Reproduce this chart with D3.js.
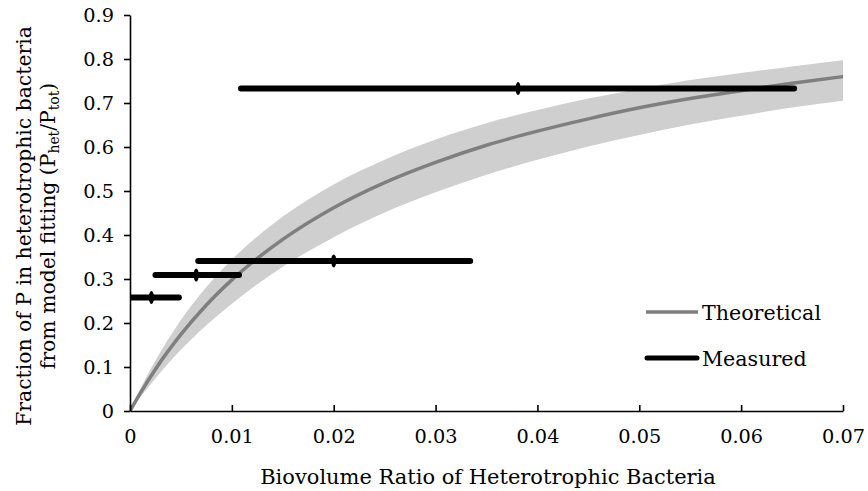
<!DOCTYPE html>
<html><head><meta charset="utf-8">
<script src="https://cdn.jsdelivr.net/npm/d3@7"></script>
<style>body{margin:0;background:#fff}svg{display:block}text{font-family:"DejaVu Serif",serif;fill:#000}</style>
</head><body><svg id="c" width="868" height="491"></svg>
<script>
// ---- data ----
const xTicks = [0, 0.01, 0.02, 0.03, 0.04, 0.05, 0.06, 0.07];
const xTickLabels = ["0", "0.01", "0.02", "0.03", "0.04", "0.05", "0.06", "0.07"];
const yTicks = [0, 0.1, 0.2, 0.3, 0.4, 0.5, 0.6, 0.7, 0.8, 0.9];
const yTickLabels = ["0", "0.1", "0.2", "0.3", "0.4", "0.5", "0.6", "0.7", "0.8", "0.9"];

const curveX     = [0, 0.001, 0.0025, 0.005, 0.0075, 0.01, 0.015, 0.02, 0.025, 0.03, 0.035, 0.04, 0.045, 0.05, 0.055, 0.06, 0.065, 0.07];
const theoretical= [0, 0.040, 0.095, 0.174, 0.241, 0.298, 0.390, 0.462, 0.519, 0.565, 0.604, 0.636, 0.664, 0.689, 0.710, 0.728, 0.745, 0.760];
const bandUpper  = [0, 0.050, 0.115, 0.207, 0.282, 0.344, 0.442, 0.515, 0.571, 0.617, 0.654, 0.684, 0.710, 0.732, 0.752, 0.768, 0.783, 0.797];
const bandLower  = [0, 0.031, 0.074, 0.139, 0.195, 0.244, 0.328, 0.395, 0.451, 0.497, 0.537, 0.571, 0.601, 0.627, 0.651, 0.671, 0.690, 0.705];

const measuredX   = [0.0021, 0.0065, 0.0200, 0.0381];
const measuredLo  = [-0.001, 0.0025, 0.0067, 0.0109];
const measuredHi  = [0.0048, 0.0107, 0.0334, 0.0652];
const measuredY   = [0.258, 0.309, 0.341, 0.733];

const legendNames = ["Theoretical", "Measured"];
const xTitle = "Biovolume Ratio of Heterotrophic Bacteria";

// ---- helpers ----
function fit(sel, target, base) {
  sel.attr("font-size", base);
  const w = sel.node().getComputedTextLength();
  const s = base * target / w;
  sel.attr("font-size", s);
  return s;
}

// ---- chart ----
const svg = d3.select("#c");
const x = d3.scaleLinear().domain([0, 0.07]).range([130, 843]);
const y = d3.scaleLinear().domain([0, 0.9]).range([411, 15]);

svg.append("defs").append("clipPath").attr("id","clip")
  .append("rect").attr("x",130).attr("y",0).attr("width",760).attr("height",411);

const plot = svg.append("g").attr("clip-path","url(#clip)");

const band = curveX.map((v,i)=>({x:v, lo:bandLower[i], hi:bandUpper[i]}));
plot.append("path").datum(band)
  .attr("d", d3.area().x(d=>x(d.x)).y0(d=>y(d.lo)).y1(d=>y(d.hi)).curve(d3.curveMonotoneX))
  .attr("fill","#d0cfd0");

plot.append("path").datum(curveX.map((v,i)=>({x:v, y:theoretical[i]})))
  .attr("d", d3.line().x(d=>x(d.x)).y(d=>y(d.y)).curve(d3.curveMonotoneX))
  .attr("fill","none").attr("stroke","#7f7f7f").attr("stroke-width",3.5);

const meas = measuredX.map((v,i)=>({x:v, lo:measuredLo[i], hi:measuredHi[i], y:measuredY[i]}));
plot.selectAll(".eb").data(meas).join("line")
  .attr("x1",d=>x(d.lo)).attr("x2",d=>x(d.hi))
  .attr("y1",d=>y(d.y)).attr("y2",d=>y(d.y))
  .attr("stroke","#000").attr("stroke-width",6).attr("stroke-linecap","round");
plot.selectAll(".mk").data(meas).join("ellipse")
  .attr("cx",d=>x(d.x)).attr("cy",d=>y(d.y)).attr("rx",2.6).attr("ry",6.5).attr("fill","#000");

// axes
const xAxis = svg.append("g").attr("transform","translate(0,411)")
  .call(d3.axisBottom(x).tickValues(xTicks).tickSizeInner(-6).tickSizeOuter(0).tickPadding(18)
    .tickFormat((d,i)=>xTickLabels[i]));
const yAxis = svg.append("g").attr("transform","translate(130,0)")
  .call(d3.axisLeft(y).tickValues(yTicks).tickSizeInner(6).tickSizeOuter(0).tickPadding(10)
    .tickFormat((d,i)=>yTickLabels[i]));
[xAxis, yAxis].forEach(a=>{
  a.attr("font-family",null).attr("font-size",null);
  a.select(".domain").attr("stroke","#000").attr("stroke-width",1.6);
  a.selectAll(".tick line").attr("stroke","#000").attr("stroke-width",1.6);
});
const tickSize = fit(xAxis.selectAll(".tick text").filter((d,i)=>i===7), 43, 18);
xAxis.selectAll(".tick text").attr("font-size",tickSize).attr("dy","0.71em");
yAxis.selectAll(".tick text").attr("font-size",tickSize);

// axis titles
const xt = svg.append("text").attr("x",488).attr("y",484).attr("text-anchor","middle").text(xTitle);
fit(xt, 456, 18);

const yl = svg.append("g").attr("transform","translate(0,226) rotate(-90)");
const t1 = yl.append("text").attr("x",0).attr("y",31).attr("text-anchor","middle")
  .text("Fraction of P in heterotrophic bacteria");
const ys = fit(t1, 400, 18);
const t2 = yl.append("text").attr("x",0).attr("y",55).attr("text-anchor","middle").attr("font-size",ys);
t2.append("tspan").text("from model fitting (P");
t2.append("tspan").attr("class","sub").attr("dy",4).text("het");
t2.append("tspan").attr("dy",-4).text("/P");
t2.append("tspan").attr("class","sub").attr("dy",4).text("tot");
t2.append("tspan").attr("dy",-4).text(")");
t2.selectAll(".sub").attr("font-size", ys * 0.68);

// legend
const leg = svg.append("g");
const legY = [312, 358];
leg.append("line").attr("x1",646).attr("x2",698).attr("y1",legY[0]).attr("y2",legY[0])
  .attr("stroke","#7f7f7f").attr("stroke-width",3.5);
leg.append("line").attr("x1",647).attr("x2",697).attr("y1",legY[1]).attr("y2",legY[1])
  .attr("stroke","#000").attr("stroke-width",5).attr("stroke-linecap","round");
const lt = leg.selectAll(".lt").data(legendNames).join("text")
  .attr("x",702).attr("y",(d,i)=>legY[i]+8).text(d=>d);
const ls = fit(lt.filter((d,i)=>i===0), 119, 18);
lt.attr("font-size", ls);
</script></body></html>
